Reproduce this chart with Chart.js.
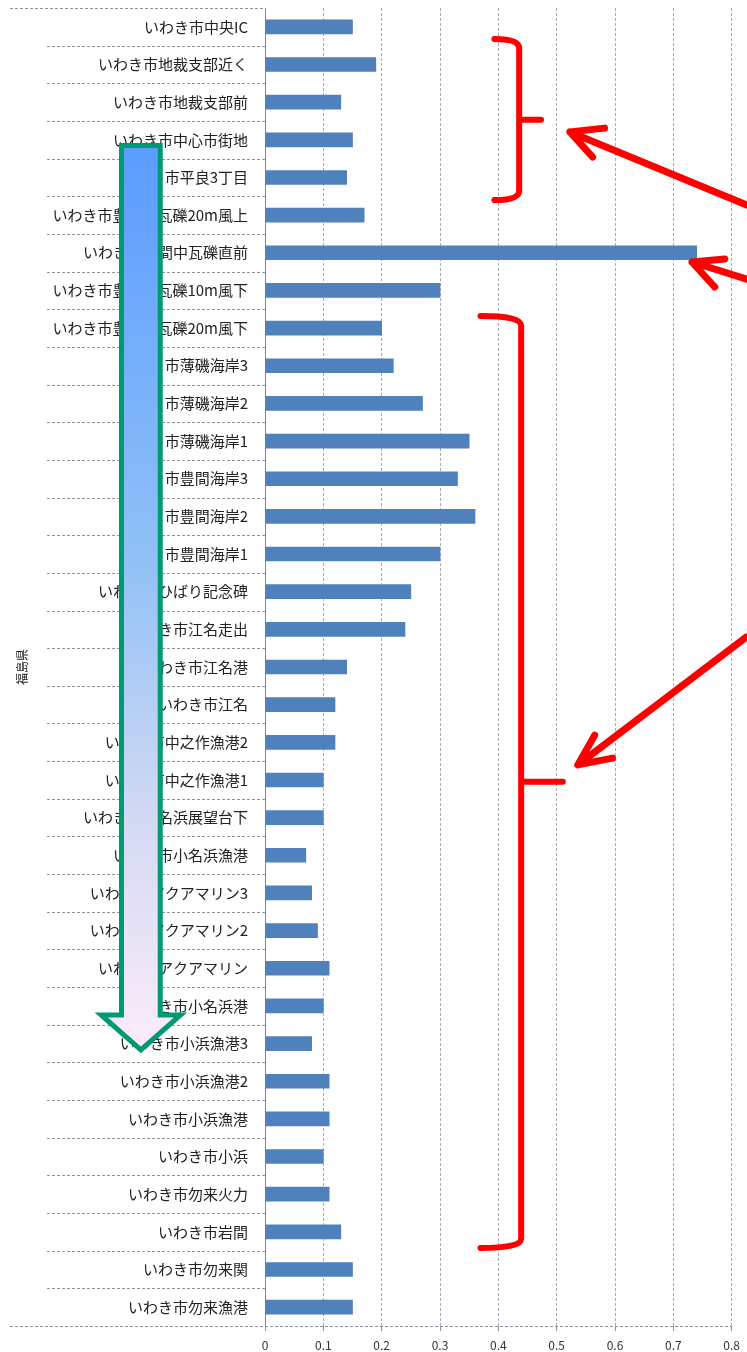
<!DOCTYPE html>
<html>
<head>
<meta charset="utf-8">
<script src="https://cdn.jsdelivr.net/npm/chart.js@4/dist/chart.umd.min.js"></script>
<style>
  html, body { margin: 0; padding: 0; background: #fff; }
  #wrap { width: 747px; height: 1352px; }
</style>
</head>
<body>
<div id="wrap"><canvas id="doseChart" width="747" height="1352"></canvas></div>
<script>
// --- DATA ---
const groupLabel = '福島県';

const sites = [
    'いわき市中央IC', 'いわき市地裁支部近く', 'いわき市地裁支部前', 'いわき市中心市街地',
    'いわき市平良3丁目', 'いわき市豊間中瓦礫20m風上', 'いわき市豊間中瓦礫直前', 'いわき市豊間中瓦礫10m風下',
    'いわき市豊間中瓦礫20m風下', 'いわき市薄磯海岸3', 'いわき市薄磯海岸2', 'いわき市薄磯海岸1',
    'いわき市豊間海岸3', 'いわき市豊間海岸2', 'いわき市豊間海岸1', 'いわき市ひばり記念碑',
    'いわき市江名走出', 'いわき市江名港', 'いわき市江名', 'いわき市中之作漁港2',
    'いわき市中之作漁港1', 'いわき市小名浜展望台下', 'いわき市小名浜漁港', 'いわき市アクアマリン3',
    'いわき市アクアマリン2', 'いわき市アクアマリン', 'いわき市小名浜港', 'いわき市小浜漁港3',
    'いわき市小浜漁港2', 'いわき市小浜漁港', 'いわき市小浜', 'いわき市勿来火力',
    'いわき市岩間', 'いわき市勿来関', 'いわき市勿来漁港'
];

const doseValues = [
    0.15, 0.19, 0.13, 0.15,
    0.14, 0.17, 0.74, 0.30,
    0.20, 0.22, 0.27, 0.35,
    0.33, 0.36, 0.30, 0.25,
    0.24, 0.14, 0.12, 0.12,
    0.10, 0.10, 0.07, 0.08,
    0.09, 0.11, 0.10, 0.08,
    0.11, 0.11, 0.10, 0.11,
    0.13, 0.15, 0.15
];

const xTickLabels = ['0', '0.1', '0.2', '0.3', '0.4', '0.5', '0.6', '0.7', '0.8'];

const FONT = '"Noto Sans CJK JP", "Noto Sans", sans-serif';

// --- CATEGORY SEPARATORS (label area, like Excel's multi-level axis) ---
const separatorPlugin = {
    id: 'separators',
    afterDraw(chart) {
        const ctx = chart.ctx;
        const y = chart.scales.y;
        const area = chart.chartArea;
        ctx.save();
        ctx.strokeStyle = '#8d939e';
        ctx.lineWidth = 1;
        ctx.setLineDash([3, 2]);
        for (let i = 1; i < sites.length; i++) {
            const py = Math.round(y.getPixelForValue(i - 0.5)) + 0.5;
            ctx.beginPath();
            ctx.moveTo(47, py);
            ctx.lineTo(area.left, py);
            ctx.stroke();
        }
        // outer level boundaries run the full width
        const top = Math.round(area.top) + 0.5;
        const bottom = Math.round(area.bottom) + 0.5;
        ctx.beginPath();
        ctx.moveTo(10, top);
        ctx.lineTo(area.left, top);
        ctx.moveTo(10, bottom);
        ctx.lineTo(area.right, bottom);
        ctx.stroke();
        ctx.restore();
    }
};

// --- ANNOTATIONS (braces, arrows) placed in scale units ---
const annotationPlugin = {
    id: 'annotations',
    afterDraw(chart) {
        const ctx = chart.ctx;
        const xs = chart.scales.x;
        const ys = chart.scales.y;
        const P = (v, i) => [xs.getPixelForValue(v), ys.getPixelForValue(i)];

        ctx.save();
        ctx.strokeStyle = '#ff0000';
        ctx.lineCap = 'round';
        ctx.lineJoin = 'round';

        // braces: [hookLeft, spine, tip, top, mid, bottom]
        const braces = [
            [0.3932, 0.4357, 0.4732, 0.32, 2.47, 4.60],
            [0.3694, 0.4391, 0.5106, 7.68, 20.05, 32.43]
        ];
        ctx.lineWidth = 6;
        braces.forEach(b => {
            const [hl, sp, tip, t, m, btm] = b;
            const a = P(hl, t), c1 = P(sp, t), c2 = P(sp, t + 0.25);
            const d1 = P(sp, btm), d2 = P(sp, btm - 0.25), e = P(hl, btm);
            const m1 = P(sp, m), m2 = P(tip, m);
            ctx.beginPath();
            ctx.moveTo(a[0], a[1]);
            ctx.quadraticCurveTo(c1[0], c1[1], c2[0], c2[1]);
            ctx.lineTo(d2[0], d2[1]);
            ctx.quadraticCurveTo(d1[0], d1[1], e[0], e[1]);
            ctx.moveTo(m1[0], m1[1]);
            ctx.lineTo(m2[0], m2[1]);
            ctx.stroke();
        });

        // arrows: tail, tip, wing1, wing2
        const arrows = [
            [[0.8255, 4.73], [0.5226, 2.79], [0.5821, 2.69], [0.5617, 3.46]],
            [[0.8255, 6.70], [0.7319, 6.245], [0.7881, 6.165], [0.7711, 6.91]],
            [[0.8255, 16.20], [0.5362, 19.60], [0.5651, 18.81], [0.5957, 19.42]]
        ];
        ctx.lineWidth = 7;
        arrows.forEach(a => {
            const [tail, tip, w1, w2] = a.map(p => P(p[0], p[1]));
            ctx.beginPath();
            ctx.moveTo(tail[0], tail[1]);
            ctx.lineTo(tip[0], tip[1]);
            ctx.moveTo(w1[0], w1[1]);
            ctx.lineTo(tip[0], tip[1]);
            ctx.lineTo(w2[0], w2[1]);
            ctx.stroke();
        });
        ctx.restore();

        // big gradient arrow over the labels
        const cx = -0.2128, hw = 0.0332, ww = 0.0681;
        const top = 3.15, wingY = 26.24, tipY = 27.17;
        const pts = [
            P(cx - hw, top), P(cx + hw, top), P(cx + hw, wingY), P(cx + ww, wingY),
            P(cx, tipY), P(cx - ww, wingY), P(cx - hw, wingY)
        ];
        const g = ctx.createLinearGradient(0, pts[0][1], 0, pts[4][1]);
        g.addColorStop(0, '#5a9cff');
        g.addColorStop(0.45, '#8fc0f6');
        g.addColorStop(0.75, '#d4daf3');
        g.addColorStop(1, '#fcecfa');
        ctx.save();
        ctx.beginPath();
        ctx.moveTo(pts[0][0], pts[0][1]);
        pts.slice(1).forEach(p => ctx.lineTo(p[0], p[1]));
        ctx.closePath();
        ctx.fillStyle = g;
        ctx.fill();
        ctx.lineWidth = 5;
        ctx.lineJoin = 'miter';
        ctx.strokeStyle = '#009a72';
        ctx.stroke();
        ctx.restore();
    }
};

// --- CHART ---
function renderDoseChart() {
    const ctx = document.getElementById('doseChart').getContext('2d');

    new Chart(ctx, {
        type: 'bar',
        data: {
            labels: sites,
            datasets: [{
                label: groupLabel,
                data: doseValues,
                backgroundColor: '#4f81bd',
                borderWidth: 0,
                barThickness: 14
            }]
        },
        options: {
            indexAxis: 'y',
            responsive: false,
            animation: false,
            layout: { padding: { left: 0, right: 10, top: 8, bottom: 0 } },
            plugins: {
                legend: { display: false },
                tooltip: { enabled: false }
            },
            scales: {
                x: {
                    min: 0,
                    max: 0.8,
                    afterFit: s => { s.height = 26; },
                    ticks: {
                        stepSize: 0.1,
                        padding: 7,
                        color: '#333',
                        font: { family: FONT, size: 12 },
                        callback: (v, i) => xTickLabels[i]
                    },
                    grid: {
                        color: '#a3aab8',
                        tickLength: 5,
                        tickColor: '#8d939e'
                    },
                    border: { display: false, dash: [3, 2] }
                },
                y: {
                    afterFit: s => { s.width = 265; },
                    ticks: {
                        padding: 0,
                        color: '#222',
                        autoSkip: false,
                        font: { family: FONT, size: 15, lineHeight: 1 }
                    },
                    // invisible tick marks push the labels away from the axis
                    grid: { display: true, drawOnChartArea: false, drawTicks: true, tickLength: 17, tickColor: 'rgba(0,0,0,0)' },
                    border: { display: true, color: '#868686', width: 1 },
                    title: {
                        display: true,
                        text: groupLabel,
                        color: '#222',
                        padding: { top: 15, bottom: 0 },
                        font: { family: FONT, size: 12 }
                    }
                }
            }
        },
        plugins: [separatorPlugin, annotationPlugin]
    });
}

renderDoseChart();
</script>
</body>
</html>
